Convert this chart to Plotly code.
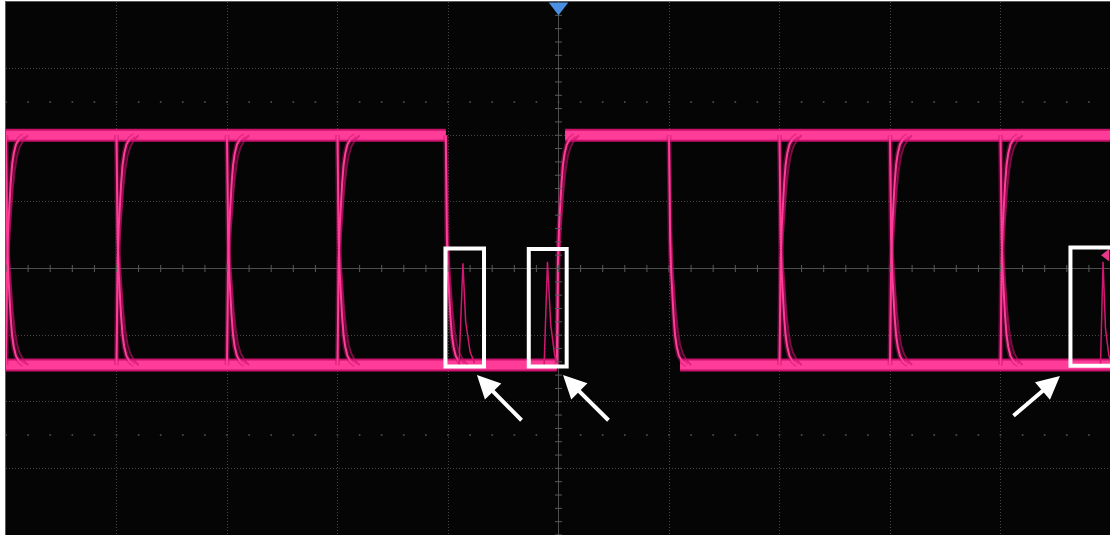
import numpy as np
import plotly.graph_objects as go

# rail levels (vertical divisions, centre = 0)
high_level = 2.0
low_level = -1.45

# edge times in horizontal divisions (trigger at 0)
fall_edges = [-5.0, -4.0, -3.0, -2.0, -1.02, 1.0, 2.0, 3.0, 4.0]
rise_edges = [-5.0, -4.0, -3.0, -2.0, -0.015, 2.0, 3.0, 4.0]

# flat parts of each rail (start, end)
high_rails = [(-5.1, -1.02), (0.06, 5.1)]
low_rails = [(-5.1, -0.015), (1.1, 5.1)]

# shape of one edge: time after edge vs fraction of swing
edge_dt = [0.0, 0.004, 0.01, 0.02, 0.03, 0.042, 0.055, 0.07, 0.09, 0.12, 0.16]
edge_frac = [0.0, 0.3, 0.45, 0.6, 0.7, 0.79, 0.87, 0.92, 0.96, 0.985, 1.0]
# slower edges smeared around the tail of the persistence trace
slow_dt = [0.0, 0.006, 0.015, 0.03, 0.045, 0.06, 0.08, 0.1, 0.125, 0.16, 0.2]
slow_frac = [0.0, 0.25, 0.4, 0.56, 0.67, 0.76, 0.85, 0.91, 0.95, 0.98, 1.0]

# runt glitches inside the marked boxes
glitch_x = [[-0.90, -0.865, -0.84, -0.80, -0.76],
            [-0.13, -0.10, -0.07, -0.035, -0.01],
            [4.905, 4.928, 4.95, 4.98, 5.0]]
glitch_y = [[-1.45, 0.08, -0.8, -1.25, -1.42],
            [-1.45, 0.1, -0.85, -1.3, -1.42],
            [-1.45, 0.1, -0.9, -1.3, -1.4]]

# highlight boxes (x0, x1, y0, y1) and arrows (tip x, tip y, tail x, tail y)
boxes = [(-1.023, -0.674, -1.47, 0.30),
         (-0.269, 0.074, -1.47, 0.293),
         (4.633, 5.06, -1.46, 0.315)]
arrows = [(-0.738, -1.60, -0.321, -2.30),
          (0.041, -1.60, 0.466, -2.30),
          (4.538, -1.614, 4.104, -2.23)]

PINK = '#ff3d98'
DARK_PINK = '#c8126c'
GRID = '#444444'

fig = go.Figure()

# rails
rx, ry = [], []
for a, b in high_rails:
    rx += [a, b, None]
    ry += [high_level, high_level, None]
for a, b in low_rails:
    rx += [a, b, None]
    ry += [low_level, low_level, None]
fig.add_trace(go.Scatter(x=rx, y=ry, mode='lines',
                         line=dict(color=DARK_PINK, width=13), hoverinfo='skip'))
fig.add_trace(go.Scatter(x=rx, y=ry, mode='lines',
                         line=dict(color=PINK, width=9), hoverinfo='skip'))


def edge_path(dts, fracs):
    swing = high_level - low_level
    ex, ey = [], []
    for t0 in fall_edges:
        ex += [t0 + d for d in dts] + [None]
        ey += [high_level - swing * f for f in fracs] + [None]
    for t0 in rise_edges:
        ex += [t0 + d for d in dts] + [None]
        ey += [low_level + swing * f for f in fracs] + [None]
    return ex, ey


sx, sy = edge_path(slow_dt, slow_frac)
fig.add_trace(go.Scatter(x=sx, y=sy, mode='lines', opacity=0.6,
                         line=dict(color=DARK_PINK, width=2), hoverinfo='skip'))
ex, ey = edge_path(edge_dt, edge_frac)
fig.add_trace(go.Scatter(x=ex, y=ey, mode='lines', opacity=0.45,
                         line=dict(color=DARK_PINK, width=5), hoverinfo='skip'))
fig.add_trace(go.Scatter(x=ex, y=ey, mode='lines',
                         line=dict(color=PINK, width=2), hoverinfo='skip'))

# glitches
for gx, gy in zip(glitch_x, glitch_y):
    fig.add_trace(go.Scatter(x=gx, y=gy, mode='lines',
                             line=dict(color='#d01872', width=1.5), hoverinfo='skip'))

# centre-cross tick marks and dot rows
ticks = np.arange(-5, 5.01, 0.2)
vticks = np.arange(-4, 4.01, 0.2)
fig.add_trace(go.Scatter(x=ticks, y=[0] * len(ticks), mode='markers',
                         marker=dict(symbol='line-ns', size=5, line=dict(color='#5a5a5a', width=1)),
                         hoverinfo='skip'))
fig.add_trace(go.Scatter(x=[0] * len(vticks), y=vticks, mode='markers',
                         marker=dict(symbol='line-ew', size=5, line=dict(color='#5a5a5a', width=1)),
                         hoverinfo='skip'))
fig.add_trace(go.Scatter(x=list(ticks) * 2, y=[2.5] * len(ticks) + [-2.5] * len(ticks),
                         mode='markers', marker=dict(size=2, color='#4a4a4a'),
                         hoverinfo='skip'))

# trigger position marker (top) and trigger level marker (right)
fig.add_trace(go.Scatter(x=[0], y=[3.93], mode='markers', cliponaxis=False,
                         marker=dict(symbol='triangle-down', size=17, color='#4b8fe3'),
                         hoverinfo='skip'))
fig.add_trace(go.Scatter(x=[4.96], y=[0.2], mode='markers', cliponaxis=False,
                         marker=dict(symbol='triangle-left', size=11, color='#e8388a'),
                         hoverinfo='skip'))

shapes = []
for x0, x1, y0, y1 in boxes:
    shapes.append(dict(type='rect', xref='x', yref='y', x0=x0, x1=x1, y0=y0, y1=y1,
                       line=dict(color='white', width=4), layer='above'))

annotations = []
for tx, ty, ax_, ay_ in arrows:
    annotations.append(dict(x=tx, y=ty, ax=ax_, ay=ay_, xref='x', yref='y',
                            axref='x', ayref='y', text='', showarrow=True,
                            arrowhead=2, arrowsize=1.15, arrowwidth=4,
                            arrowcolor='white'))

fig.update_layout(
    width=1110,
    height=535,
    margin=dict(l=6, r=0, t=2, b=0, autoexpand=False),
    paper_bgcolor='white',
    plot_bgcolor='#050505',
    showlegend=False,
    shapes=shapes,
    annotations=annotations,
    xaxis=dict(range=[-5, -5 + 1104 / 110.5], dtick=1, tick0=0,
               showgrid=True, gridcolor=GRID, griddash='1px,2px', gridwidth=1,
               zeroline=True, zerolinecolor='#4e4e4e', zerolinewidth=1,
               showticklabels=False, ticks='',
               showline=True, mirror=True, linecolor='#5a5a5a', linewidth=1),
    yaxis=dict(range=[-4, 4], dtick=1, tick0=0,
               showgrid=True, gridcolor=GRID, griddash='1px,2px', gridwidth=1,
               zeroline=True, zerolinecolor='#4e4e4e', zerolinewidth=1,
               showticklabels=False, ticks='',
               showline=True, mirror=True, linecolor='#5a5a5a', linewidth=1),
)

# drop the default page margin so the figure sits at the window corner
fig.write_html("out.html", config={'displayModeBar': False},
               post_script="document.body.style.margin='0';")
